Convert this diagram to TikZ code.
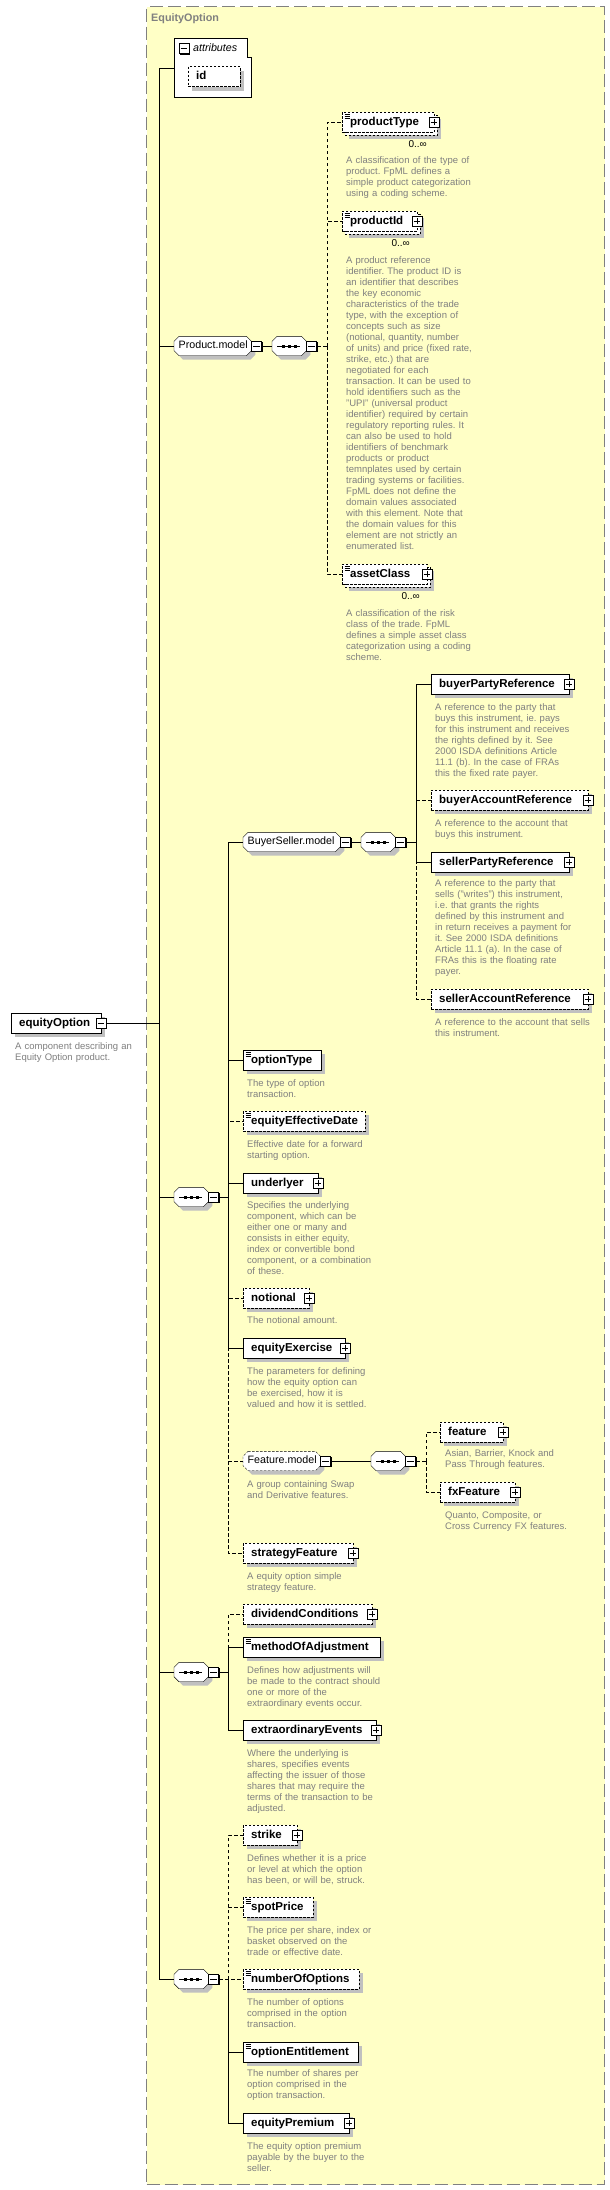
\documentclass[tikz,border=0pt]{standalone}
\usepackage{fontspec}
\setmainfont{Liberation Sans}
\usetikzlibrary{shadows}
\pgfdeclarelayer{bg}
\pgfdeclarelayer{mid}
\pgfsetlayers{bg,mid,main}
\definecolor{yel}{HTML}{FFFFC6}
\definecolor{frm}{HTML}{808080}
\definecolor{shd}{HTML}{C0C0C0}
\definecolor{dsc}{HTML}{808080}
\hyphenpenalty=10000 \exhyphenpenalty=10000
\frenchspacing
\newcommand\nmfont{\fontsize{11.5}{13}\selectfont\bfseries}
\newcommand\grfont{\fontsize{10.7}{13}\selectfont}
\newcommand\dsfont{\fontsize{9.5}{11}\selectfont\frenchspacing}
\tikzset{
  frame/.style={draw=frm, line width=1.2pt, dash pattern=on 13pt off 5pt, fill=yel,
    minimum width=458pt, minimum height=2178pt, anchor=north west, inner sep=0pt},
  title/.style={anchor=west, inner sep=0pt, text=frm, font=\fontsize{10.8}{13}\selectfont\bfseries},
  elbase/.style={draw, fill=white, rectangle, minimum height=20pt, inner xsep=8pt, inner ysep=0pt,
    text height=8.4pt, text depth=2.4pt, anchor=west, font=\nmfont, align=left},
  elbox/.style={elbase, drop shadow={shadow xshift=4pt, shadow yshift=-4pt, fill=shd, draw=none, opacity=1}},
  boxdash/.style={dash pattern=on 2.5pt off 1.5pt},
  opt/.style={boxdash},
  dl/.style={dash pattern=on 3.5pt off 2.5pt},
  grpbox/.style={rectangle, anchor=west, minimum height=19pt, inner xsep=4.5pt, inner ysep=0pt,
    text height=8pt, text depth=2.3pt, font=\grfont, align=left},
  seqbox/.style={rectangle, anchor=west, minimum width=34pt, minimum height=19pt, inner sep=0pt},
  icobase/.style={draw, fill=white, line width=1pt, minimum size=10pt, inner sep=0pt,
    drop shadow={shadow xshift=1.3pt, shadow yshift=-1.3pt, fill=black, draw=none, opacity=1}},
  minusico/.style={icobase, path picture={\draw[line width=1pt] ([xshift=-3.3pt]path picture bounding box.center) -- ([xshift=3.3pt]path picture bounding box.center);}},
  plusico/.style={icobase, path picture={\draw[line width=1pt] ([xshift=-3.3pt]path picture bounding box.center) -- ([xshift=3.3pt]path picture bounding box.center);
      \draw[line width=1pt] ([yshift=-3.3pt]path picture bounding box.center) -- ([yshift=3.3pt]path picture bounding box.center);}},
  desc/.style={anchor=north west, inner sep=0pt, text width=200pt, align=left, font=\dsfont, text=dsc},
  mult/.style={anchor=east, inner sep=0pt, font=\fontsize{10}{12}\selectfont},
}
% element box: [style]{name}{x}{y}{width}{text}
\newcommand\elem[6][elbox]{\pgfmathsetmacro\tw{#5-16}\node[#1,text width=\tw pt] (#2) at (#3,#4) {#6};}
\newcommand\ico[4][plusico]{\node[#1] (#2) at (#3,#4) {};}
\newcommand\desc[4]{\node[desc] (#1) at (#2,#3-4.2) {\strut#4};}
\newcommand\eqmark[1]{\draw[line width=0.6pt] ([xshift=2.5pt,yshift=-2.5pt]#1.north west) -- +(5pt,0pt)
  ([xshift=2.5pt,yshift=-4.3pt]#1.north west) -- +(5pt,0pt)
  ([xshift=2.5pt,yshift=-6.1pt]#1.north west) -- +(5pt,0pt);}
\newcommand\octo[4]{\path[#4]
  ([xshift=(5pt)+(#2),yshift=#3]#1.north west) -- ([xshift=(-5pt)+(#2),yshift=#3]#1.north east) --
  ([xshift=#2,yshift=(-5pt)+(#3)]#1.north east) -- ([xshift=#2,yshift=(5pt)+(#3)]#1.south east) --
  ([xshift=(-5pt)+(#2),yshift=#3]#1.south east) -- ([xshift=(5pt)+(#2),yshift=#3]#1.south west) --
  ([xshift=#2,yshift=(5pt)+(#3)]#1.south west) -- ([xshift=#2,yshift=(-5pt)+(#3)]#1.north west) -- cycle;}
\newcommand\grp[6][]{\pgfmathsetmacro\tw{#5-9}\node[grpbox,text width=\tw pt] (#2) at (#3,#4) {#6};
  \begin{pgfonlayer}{mid}\octo{#2}{4pt}{-4pt}{fill=shd}\octo{#2}{0pt}{0pt}{draw,fill=white,#1}\end{pgfonlayer}}
\newcommand\seqn[3]{\node[seqbox] (#1) at (#2,#3) {};
  \begin{pgfonlayer}{mid}\octo{#1}{4pt}{-4pt}{fill=shd}\octo{#1}{0pt}{0pt}{draw,fill=white}\end{pgfonlayer}
  \draw ([xshift=5pt]#1.west) -- ([xshift=-6pt]#1.east);
  \fill ([xshift=-7.5pt,yshift=-1.5pt]#1.center) rectangle ++(3pt,3pt);
  \fill ([xshift=-1.5pt,yshift=-1.5pt]#1.center) rectangle ++(3pt,3pt);
  \fill ([xshift=4.5pt,yshift=-1.5pt]#1.center) rectangle ++(3pt,3pt);}
\newcommand\multiback[1]{\begin{pgfonlayer}{mid}
  \fill[shd] ([xshift=7pt,yshift=-7pt]#1.north west) rectangle ([xshift=7pt,yshift=-7pt]#1.south east);
  \draw[boxdash,fill=white] ([xshift=3pt,yshift=-3pt]#1.north west) rectangle ([xshift=3pt,yshift=-3pt]#1.south east);
  \end{pgfonlayer}}
\begin{document}
\begin{tikzpicture}[x=1pt,y=-1pt,line width=1pt]
\begin{pgfonlayer}{bg}
\fill[white] (0,0) rectangle (610,2190);
\node[frame] (frame) at (146,6) {};
\end{pgfonlayer}
\useasboundingbox (0,0) rectangle (610,2190);
\node[title] (title) at (151,19) {EquityOption};

% attributes
\node[minimum width=77pt, minimum height=59pt, anchor=north west, inner sep=0pt] (attr) at (174,38) {};
\draw[fill=white] (attr.north west) -- ([xshift=-4pt]attr.north east) -- ([xshift=-4pt,yshift=-19pt]attr.north east)
  -- ([yshift=-19pt]attr.north east) -- (attr.south east) -- (attr.south west) -- cycle;
\ico[minusico]{attr-i}{184}{48.5}
\node[anchor=west, inner sep=0pt, font=\grfont\itshape] (attrlbl) at (193,48) {attributes};
\elem[elbox,opt]{id}{188}{76.5}{52}{id}

% root element
\elem{equityOption}{11}{1023}{90}{equityOption}
\ico[minusico]{equityOption-i}{101}{1023}
\desc{equityOption-d}{15}{1046}{A component describing an\\Equity Option product.}
\coordinate (J) at (159,1023);

% Product.model
\grp{pmodel}{174}{346}{77}{Product.model}
\ico[minusico]{pmodel-i}{256.5}{346}
\seqn{pseq}{272}{346}
\ico[minusico]{pseq-i}{311.5}{346}
\coordinate (PB) at (327,346);

\elem[elbase,opt]{productType}{342}{122}{92}{productType}
\multiback{productType}\eqmark{productType}
\ico{productType-i}{434}{122}
\node[mult] (productType-m) at (427,144) {0..∞};
\desc{productType-d}{346}{160}{A classification of the type of\\product. FpML defines a\\simple product categorization\\using a coding scheme.}

\elem[elbase,opt]{productId}{342}{221}{75}{productId}
\multiback{productId}\eqmark{productId}
\ico{productId-i}{417}{221}
\node[mult] (productId-m) at (410,243) {0..∞};
\desc{productId-d}{346}{260}{A product reference\\identifier. The product ID is\\an identifier that describes\\the key economic\\characteristics of the trade\\type, with the exception of\\concepts such as size\\(notional, quantity, number\\of units) and price (fixed rate,\\strike, etc.) that are\\negotiated for each\\transaction. It can be used to\\hold identifiers such as the\\"UPI" (universal product\\identifier) required by certain\\regulatory reporting rules. It\\can also be used to hold\\identifiers of benchmark\\products or product\\temnplates used by certain\\trading systems or facilities.\\FpML does not define the\\domain values associated\\with this element. Note that\\the domain values for this\\element are not strictly an\\enumerated list.}

\elem[elbase,opt]{assetClass}{342}{574}{85}{assetClass}
\multiback{assetClass}\eqmark{assetClass}
\ico{assetClass-i}{427}{574}
\node[mult] (assetClass-m) at (420,596) {0..∞};
\desc{assetClass-d}{346}{613}{A classification of the risk\\class of the trade. FpML\\defines a simple asset class\\categorization using a coding\\scheme.}

% BuyerSeller.model
\grp{bsmodel}{243}{842}{97}{BuyerSeller.model}
\ico[minusico]{bsmodel-i}{345.5}{842}
\seqn{bsseq}{361}{842}
\ico[minusico]{bsseq-i}{400.5}{842}
\coordinate (BB) at (416,842);

\elem{buyerPartyReference}{431}{684}{138}{buyerPartyReference}
\ico{buyerPartyReference-i}{569}{684}
\desc{buyerPartyReference-d}{435}{707}{A reference to the party that\\buys this instrument, ie. pays\\for this instrument and receives\\the rights defined by it. See\\2000 ISDA definitions Article\\11.1 (b). In the case of FRAs\\this the fixed rate payer.}

\elem[elbox,opt]{buyerAccountReference}{431}{800}{157}{buyerAccountReference}
\ico{buyerAccountReference-i}{588}{800}
\desc{buyerAccountReference-d}{435}{823}{A reference to the account that\\buys this instrument.}

\elem{sellerPartyReference}{431}{862}{138}{sellerPartyReference}
\ico{sellerPartyReference-i}{569}{862}
\desc{sellerPartyReference-d}{435}{883}{A reference to the party that\\sells ("writes") this instrument,\\i.e. that grants the rights\\defined by this instrument and\\in return receives a payment for\\it. See 2000 ISDA definitions\\Article 11.1 (a). In the case of\\FRAs this is the floating rate\\payer.}

\elem[elbox,opt]{sellerAccountReference}{431}{999}{157}{sellerAccountReference}
\ico{sellerAccountReference-i}{588}{999}
\desc{sellerAccountReference-d}{435}{1022}{A reference to the account that sells\\this instrument.}

% main sequence 2
\seqn{seq2}{174}{1197}
\ico[minusico]{seq2-i}{213.5}{1197}
\coordinate (S2) at (228,1197);

\elem{optionType}{243}{1060}{78}{optionType}
\eqmark{optionType}
\desc{optionType-d}{247}{1083}{The type of option\\transaction.}

\elem[elbox,opt]{equityEffectiveDate}{243}{1121}{122}{equityEffectiveDate}
\eqmark{equityEffectiveDate}
\desc{equityEffectiveDate-d}{247}{1144}{Effective date for a forward\\starting option.}

\elem{underlyer}{243}{1183}{75}{underlyer}
\ico{underlyer-i}{318}{1183}
\desc{underlyer-d}{247}{1205}{Specifies the underlying\\component, which can be\\either one or many and\\consists in either equity,\\index or convertible bond\\component, or a combination\\of these.}

\elem[elbox,opt]{notional}{243}{1298}{66}{notional}
\ico{notional-i}{309}{1298}
\desc{notional-d}{247}{1320}{The notional amount.}

\elem{equityExercise}{243}{1348}{102}{equityExercise}
\ico{equityExercise-i}{345}{1348}
\desc{equityExercise-d}{247}{1371}{The parameters for defining\\how the equity option can\\be exercised, how it is\\valued and how it is settled.}

\grp[boxdash]{fmodel}{243}{1461}{77}{Feature.model}
\ico[minusico]{fmodel-i}{325.5}{1461}
\desc{fmodel-d}{247}{1484}{A group containing Swap\\and Derivative features.}
\seqn{fseq}{371}{1461}
\ico[minusico]{fseq-i}{410.5}{1461}
\coordinate (FB) at (426,1461);

\elem[elbox,opt]{feature}{440}{1432}{63}{feature}
\ico{feature-i}{503}{1432}
\desc{feature-d}{445}{1453}{Asian, Barrier, Knock and\\Pass Through features.}

\elem[elbox,opt]{fxFeature}{440}{1492}{75}{fxFeature}
\ico{fxFeature-i}{515}{1492}
\desc{fxFeature-d}{445}{1515}{Quanto, Composite, or\\Cross Currency FX features.}

\elem[elbox,opt]{strategyFeature}{243}{1553}{110}{strategyFeature}
\ico{strategyFeature-i}{353}{1553}
\desc{strategyFeature-d}{247}{1576}{A equity option simple\\strategy feature.}

% sequence 3
\seqn{seq3}{174}{1672}
\ico[minusico]{seq3-i}{213.5}{1672}
\coordinate (S3) at (228,1672);

\elem[elbox,opt]{dividendConditions}{243}{1614}{129}{dividendConditions}
\ico{dividendConditions-i}{372}{1614}

\elem{methodOfAdjustment}{243}{1647}{137}{methodOfAdjustment}
\eqmark{methodOfAdjustment}
\desc{methodOfAdjustment-d}{247}{1670}{Defines how adjustments will\\be made to the contract should\\one or more of the\\extraordinary events occur.}

\elem{extraordinaryEvents}{243}{1730}{133}{extraordinaryEvents}
\ico{extraordinaryEvents-i}{376}{1730}
\desc{extraordinaryEvents-d}{247}{1753}{Where the underlying is\\shares, specifies events\\affecting the issuer of those\\shares that may require the\\terms of the transaction to be\\adjusted.}

% sequence 4
\seqn{seq4}{174}{1979}
\ico[minusico]{seq4-i}{213.5}{1979}
\coordinate (S4) at (228,1979);

\elem[elbox,opt]{strike}{243}{1835}{54}{strike}
\ico{strike-i}{297}{1835}
\desc{strike-d}{247}{1858}{Defines whether it is a price\\or level at which the option\\has been, or will be, struck.}

\elem[elbox,opt]{spotPrice}{243}{1907}{70}{spotPrice}
\eqmark{spotPrice}
\desc{spotPrice-d}{247}{1930}{The price per share, index or\\basket observed on the\\trade or effective date.}

\elem[elbox,opt]{numberOfOptions}{243}{1979}{116}{numberOfOptions}
\eqmark{numberOfOptions}
\desc{numberOfOptions-d}{247}{2002}{The number of options\\comprised in the option\\transaction.}

\elem{optionEntitlement}{243}{2052}{115}{optionEntitlement}
\eqmark{optionEntitlement}
\desc{optionEntitlement-d}{247}{2073}{The number of shares per\\option comprised in the\\option transaction.}

\elem{equityPremium}{243}{2123}{106}{equityPremium}
\ico{equityPremium-i}{349}{2123}
\desc{equityPremium-d}{247}{2146}{The equity option premium\\payable by the buyer to the\\seller.}

% connectors
\draw (equityOption-i.east) -- (J);
\draw (J) |- (attr.west);
\draw (J) |- (pmodel.west);
\draw (J) |- (seq2.west);
\draw (J) |- (seq3.west);
\draw (J) |- (seq4.west);

\draw (pmodel-i.east) -- (pseq.west);
\draw[dl] (pseq-i.east) -- (PB);
\draw[dl] (PB) |- (productType.west);
\draw[dl] (PB) |- (productId.west);
\draw[dl] (PB) |- (assetClass.west);

\draw (bsmodel-i.east) -- (bsseq.west);
\draw (bsseq-i.east) -- (BB);
\draw (BB) |- (buyerPartyReference.west);
\draw[dl] (BB) |- (buyerAccountReference.west);
\draw (BB) |- (sellerPartyReference.west);
\draw[dl] (BB) |- (sellerAccountReference.west);

\draw (seq2-i.east) -- (S2);
\draw (S2) |- (bsmodel.west);
\draw (S2) |- (optionType.west);
\draw[dl] (S2) |- (equityEffectiveDate.west);
\draw (S2) |- (underlyer.west);
\draw[dl] (S2) |- (notional.west);
\draw (S2) |- (equityExercise.west);
\draw[dl] (S2) |- (fmodel.west);
\draw[dl] (S2) |- (strategyFeature.west);

\draw (fmodel-i.east) -- (fseq.west);
\draw[dl] (fseq-i.east) -- (FB);
\draw[dl] (FB) |- (feature.west);
\draw[dl] (FB) |- (fxFeature.west);

\draw (seq3-i.east) -- (S3);
\draw[dl] (S3) |- (dividendConditions.west);
\draw (S3) |- (methodOfAdjustment.west);
\draw (S3) |- (extraordinaryEvents.west);

\draw[dl] (seq4-i.east) -- (numberOfOptions.west);
\draw[dl] (S4) |- (strike.west);
\draw[dl] (S4) |- (spotPrice.west);
\draw (S4) |- (optionEntitlement.west);
\draw (S4) |- (equityPremium.west);
\end{tikzpicture}
\end{document}
